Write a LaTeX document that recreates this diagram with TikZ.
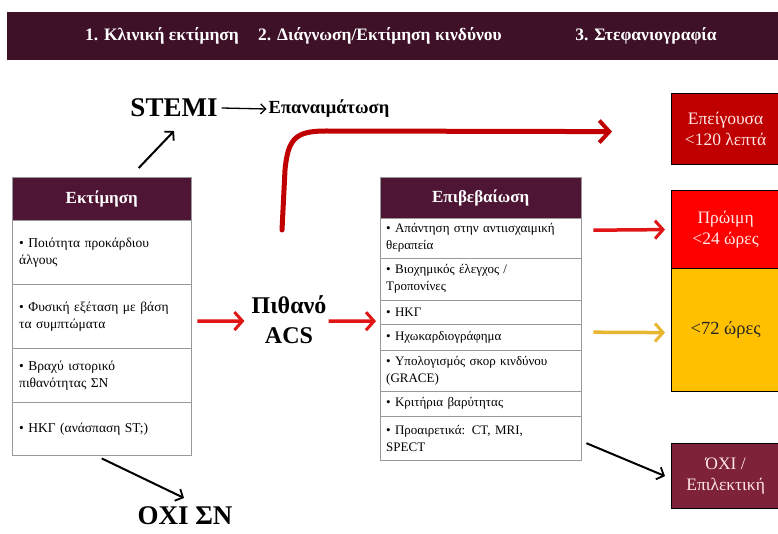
\documentclass[tikz,border=0pt]{standalone}
\usepackage{fontspec}
\setmainfont{Liberation Serif}
\usetikzlibrary{arrows.meta}
\definecolor{hdr}{HTML}{3E1128}
\definecolor{boxhdr}{HTML}{4E1535}
\definecolor{urgentc}{HTML}{C00000}
\definecolor{earlyc}{HTML}{FF0000}
\definecolor{latec}{HTML}{FFC000}
\definecolor{electc}{HTML}{7E2239}
\definecolor{arrred}{HTML}{E01515}
\definecolor{arrdark}{HTML}{C00000}
\definecolor{arryel}{HTML}{E8B630}
\definecolor{lighttext}{HTML}{FFE6E6}
\definecolor{rowline}{HTML}{999999}
\begin{document}
\begin{tikzpicture}[x=1pt,y=-1pt,
  hdrtext/.style={text=white, font=\bfseries\fontsize{17.5}{20}\selectfont, inner sep=0},
  boxhead/.style={fill=boxhdr, draw=rowline, text=white, font=\bfseries\fontsize{17}{20}\selectfont, inner sep=0, anchor=north west},
  lrow/.style={draw=rowline, fill=white, font=\fontsize{13.5}{17}\selectfont, align=left, inner xsep=7, inner ysep=0, anchor=north west},
  rrow/.style={draw=rowline, fill=white, font=\fontsize{13}{17}\selectfont, align=left, inner xsep=6, inner ysep=0, anchor=north west},
  bigbold/.style={font=\bfseries\fontsize{#1}{#1}\selectfont, inner sep=0},
  rbox/.style={draw=black, line width=1.2pt, anchor=north west, align=center, minimum width=108, inner sep=0, font=\fontsize{17.5}{21}\selectfont},
  redarr/.style={draw=arrred, line width=3.5pt, -{Straight Barb[length=8pt,width=18pt,line width=3pt]}},
  yelarr/.style={draw=arryel, line width=3.5pt, -{Straight Barb[length=8pt,width=18pt,line width=3pt]}},
  darkarr/.style={draw=arrdark, line width=5pt, -{Straight Barb[length=10pt,width=22pt,line width=4pt]}},
  blkarr/.style={draw=black, line width=2pt, -{Straight Barb[length=6pt,width=13pt,line width=1.8pt]}},
  thinarr/.style={draw=black, line width=1.3pt, -{Straight Barb[length=5pt,width=10pt,line width=1.3pt]}},
]
\fill[white] (0,0) rectangle (778,534);
\useasboundingbox (0,0) rectangle (778,534);

% header bar
\node[fill=hdr, minimum width=772, minimum height=48, anchor=north west, inner sep=0] (bar) at (7,12) {};
\node[hdrtext] (h1) at (162,36) {1. Κλινική εκτίμηση};
\node[hdrtext] (h2) at (380,36) {2. Διάγνωση/Εκτίμηση κινδύνου};
\node[hdrtext] (h3) at (646,36) {3. Στεφανιογραφία};

% left box
\node[boxhead, minimum width=179, minimum height=43] (eh) at (12,177) {Εκτίμηση};
\node[lrow, text width=165, minimum height=64] (e1) at (12,220) {• Ποιότητα προκάρδιου\\άλγους};
\node[lrow, text width=165, minimum height=64] (e2) at (12,284) {• Φυσική εξέταση με βάση\\τα συμπτώματα};
\node[lrow, text width=165, minimum height=54] (e3) at (12,348) {• Βραχύ ιστορικό\\πιθανότητας ΣΝ};
\node[lrow, text width=165, minimum height=53] (e4) at (12,402) {• ΗΚΓ (ανάσπαση ST;)};

% right box
\node[boxhead, minimum width=201, minimum height=41] (rh) at (380,177) {Επιβεβαίωση};
\node[rrow, text width=189, minimum height=40] (r1) at (380,218) {• Απάντηση στην αντιισχαιμική\\θεραπεία};
\node[rrow, text width=189, minimum height=42] (r2) at (380,258) {• Βιοχημικός έλεγχος /\\Τροπονίνες};
\node[rrow, text width=189, minimum height=24] (r3) at (380,300) {• ΗΚΓ};
\node[rrow, text width=189, minimum height=26] (r4) at (380,324) {• Ηχωκαρδιογράφημα};
\node[rrow, text width=189, minimum height=41] (r5) at (380,350) {• Υπολογισμός σκορ κινδύνου\\(GRACE)};
\node[rrow, text width=189, minimum height=25] (r6) at (380,391) {• Κριτήρια βαρύτητας};
\node[rrow, text width=189, minimum height=44] (r7) at (380,416) {• Προαιρετικά: CT, MRI,\\SPECT};

% big labels
\node[bigbold=27] (stemi) at (174,108) {STEMI};
\node[bigbold=18.5] (reperf) at (329,109) {Επαναιμάτωση};
\node[align=center, inner sep=0, font=\bfseries\fontsize{24}{30}\selectfont] (pa) at (289,320) {Πιθανό\\ACS};
\node[bigbold=27] (oxi) at (185,516) {ΟΧΙ ΣΝ};

% right coloured boxes
\node[rbox, fill=urgentc, text=lighttext, minimum height=71] (urgent) at (671,93) {Επείγουσα\\<120 λεπτά};
\node[rbox, fill=earlyc, text=lighttext, minimum height=78] (early) at (671,190) {Πρώιμη\\<24 ώρες};
\node[rbox, fill=latec, text=black!85, minimum height=123, font=\fontsize{18.5}{21}\selectfont] (late) at (671,268) {<72 ώρες};
\node[rbox, fill=electc, text=lighttext, minimum height=65] (elect) at (671,443) {ΌΧΙ /\\Επιλεκτική};

% connectors
\coordinate (stemitip) at (174,131);
\coordinate (oxitip) at (184,498);
\coordinate (cs) at (282,230);
\draw[thinarr] ([xshift=4]stemi.east) -- ([xshift=-2]reperf.west);
\draw[blkarr] ([shift={(37,-9)}]eh.north) -- (stemitip);
\draw[blkarr] ([shift={(0,3)}]e4.south) -- (oxitip);
\draw[redarr] ([shift={(6,5)}]e2.east) -- ([shift={(-7,1)}]pa.west);
\draw[redarr] ([shift={(2,1)}]pa.east) -- ([shift={(-4,9)}]r3.west);
\draw[darkarr, line cap=round] (cs) -- (285,170) .. controls (288,138) and (296,131) .. (326,131) -- ([shift={(-59,2.5)}]urgent.west);
\draw[redarr] ([shift={(12,-8)}]r1.east) -- ([shift={(-6,0)}]early.west);
\draw[yelarr] ([shift={(12,-5)}]r4.east) -- ([shift={(-6,2.5)}]late.west);
\draw[blkarr] ([shift={(5,5)}]r7.east) -- ([shift={(-6,0)}]elect.west);
\end{tikzpicture}
\end{document}
